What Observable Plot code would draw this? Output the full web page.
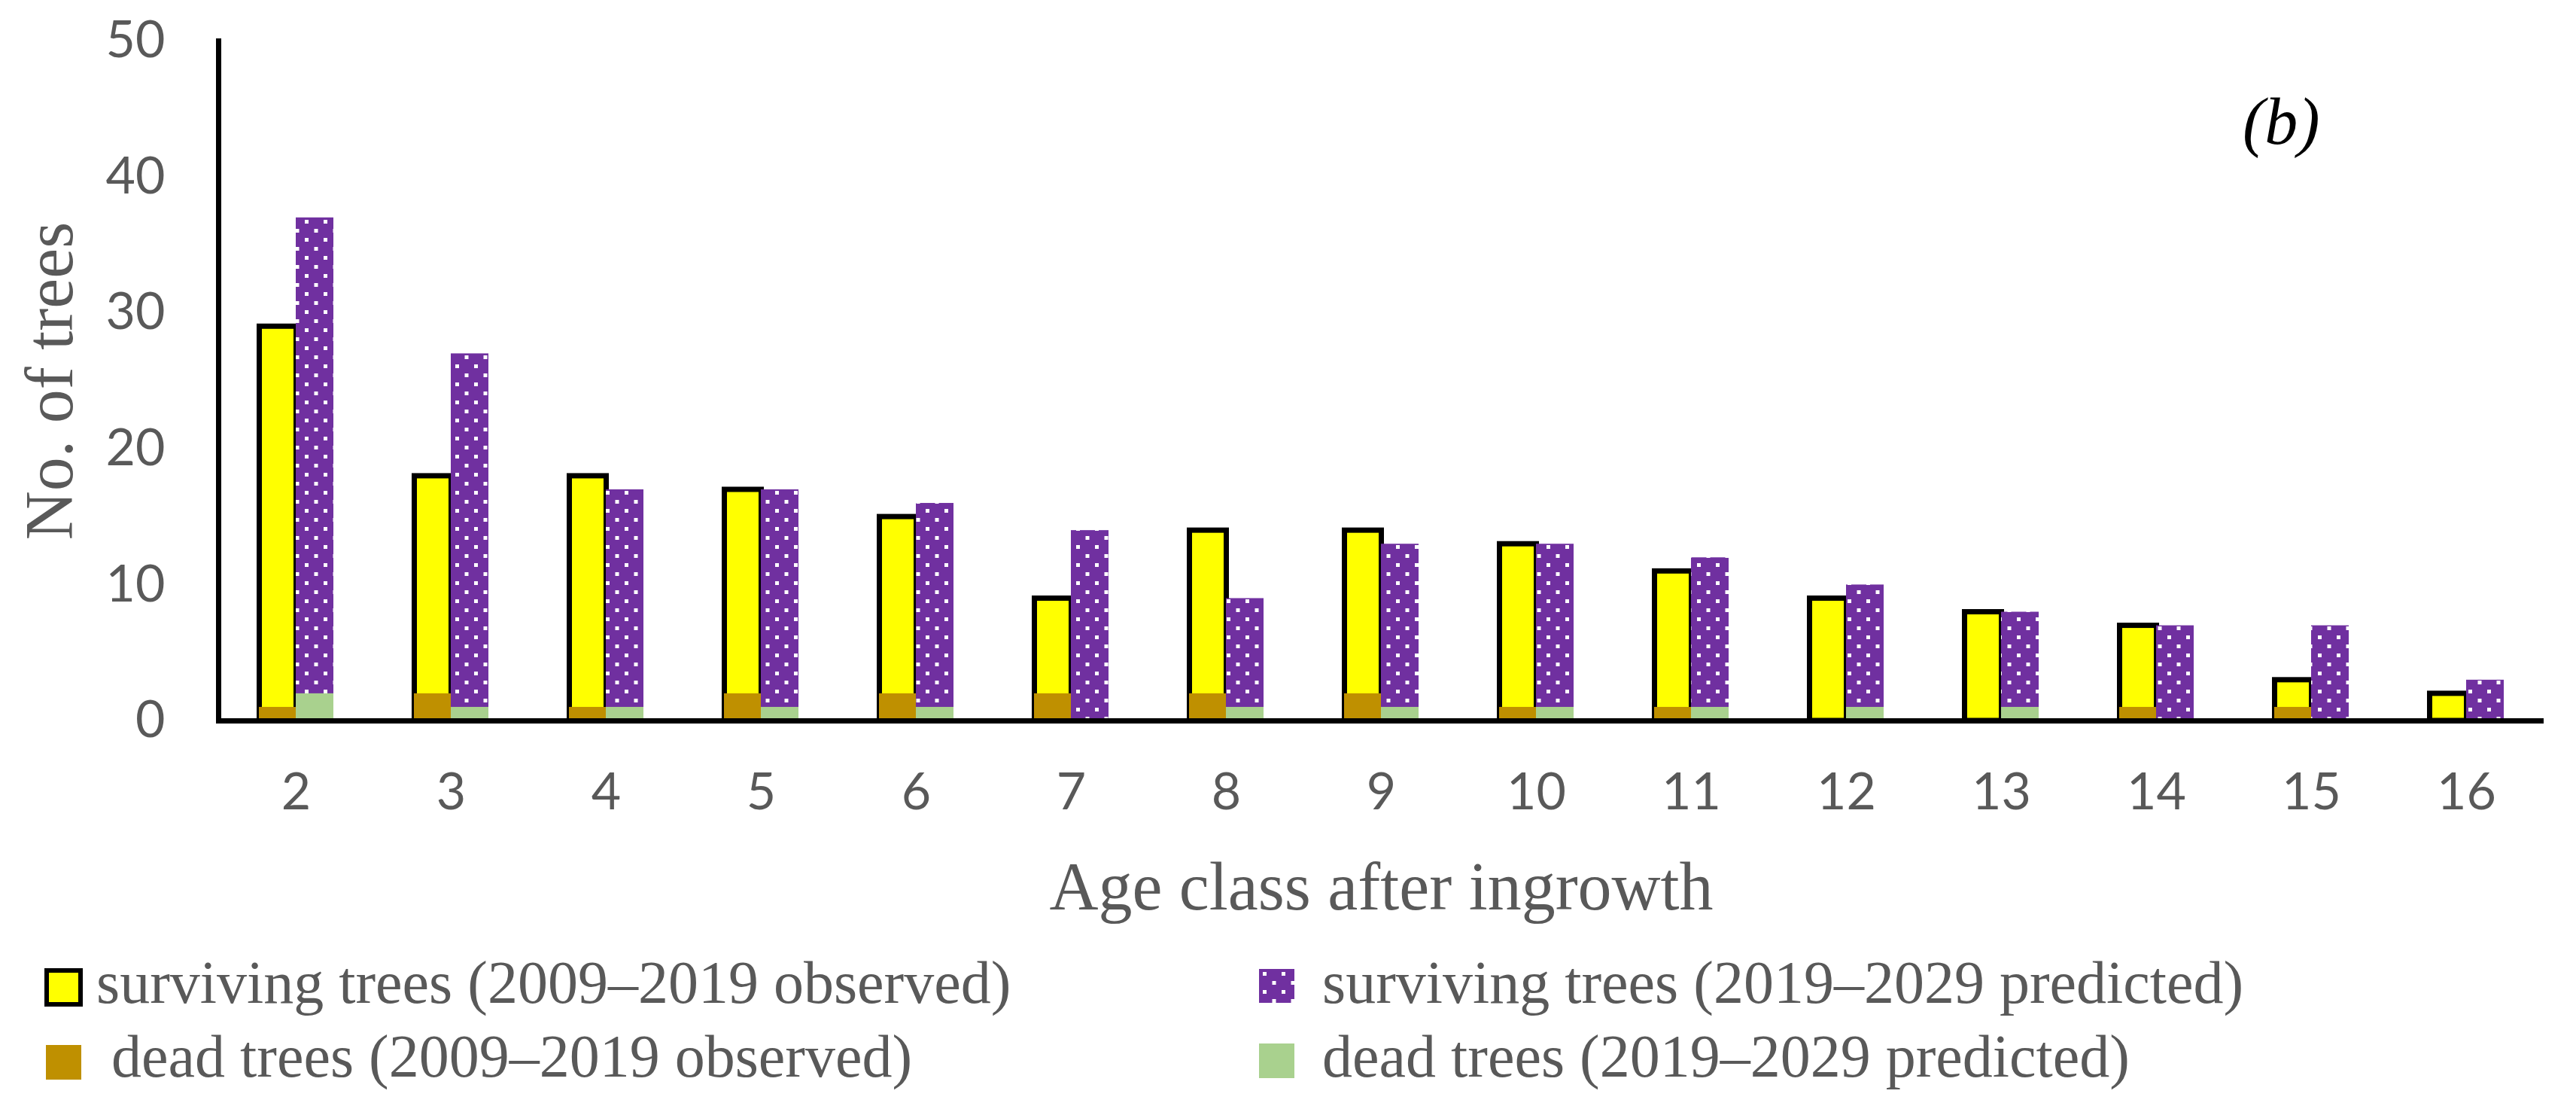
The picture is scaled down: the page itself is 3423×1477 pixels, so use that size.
<!DOCTYPE html>
<html><head><meta charset="utf-8">
<script src="https://cdn.jsdelivr.net/npm/d3@7"></script>
<script src="https://cdn.jsdelivr.net/npm/@observablehq/plot@0.6"></script>
<style>
html,body{margin:0;padding:0;background:#fff;}
#wrap{position:relative;width:3423px;height:1477px;overflow:hidden;}
#legend{position:absolute;left:0;top:0;width:3423px;height:1477px;font-family:"Liberation Serif",serif;color:#595959;font-size:80px;}
.sw{position:absolute;box-sizing:border-box;}
.lab{position:absolute;line-height:1;white-space:pre;}
</style></head><body>
<svg width="0" height="0" style="position:absolute"><defs>
<pattern id="dots" patternUnits="userSpaceOnUse" width="25" height="24">
<rect width="25" height="24" fill="#7030A0"/>
<rect x="5" y="4" width="5" height="5" fill="#fff"/>
<rect x="17.5" y="16" width="5" height="5" fill="#fff"/>
</pattern></defs></svg>
<div id="wrap"><div id="chart"></div><div id="legend"></div></div>
<script>
const ageClasses = ["2","3","4","5","6","7","8","9","10","11","12","13","14","15","16"];
const survivingObserved  = [29, 18, 18, 17, 15,  9, 14, 14, 13, 11,  9,  8,  7,  3,  2];
const survivingPredicted = [37, 27, 17, 17, 16, 14,  9, 13, 13, 12, 10,  8,  7,  7,  3];
const deadObserved       = [ 1,  2,  1,  2,  2,  2,  2,  2,  1,  1,  0,  0,  1,  1,  0];
const deadPredicted      = [ 2,  1,  1,  1,  1,  0,  1,  1,  1,  1,  1,  1,  0,  0,  0];
const yTicks = [0, 10, 20, 30, 40, 50];
const legendLabels = [
  "surviving trees (2009\u20132019 observed)",
  "surviving trees (2019\u20132029 predicted)",
  " dead trees (2009\u20132019 observed)",
  "dead trees (2019\u20132029 predicted)"
];

const rows = ageClasses.map((age, i) => ({
  age, so: survivingObserved[i], sp: survivingPredicted[i], dob: deadObserved[i], dpr: deadPredicted[i]
}));

const chart = Plot.plot({
  width: 3423, height: 1240,
  marginLeft: 290, marginRight: 43, marginTop: 54, marginBottom: 283,
  style: {fontFamily: "Lato, sans-serif", fontSize: "68px", color: "#595959", background: "white", overflow: "visible"},
  x: {type: "band", domain: ageClasses, padding: 0, tickSize: 0, tickPadding: 69, label: null},
  y: {domain: [0, 50], ticks: yTicks, tickSize: 0, tickPadding: 71, label: null},
  marks: [
    Plot.barY(rows, {x: "age", y: "so", fill: "#FFFF00", stroke: "#000", strokeWidth: 7, insetLeft: 54.5, insetRight: 102.5}),
    Plot.barY(rows, {x: "age", y: "sp", fill: "url(#dots)", insetLeft: 103, insetRight: 53}),
    Plot.barY(rows.filter(d => d.dob > 0), {x: "age", y: "dob", fill: "#BF9000", insetLeft: 54, insetRight: 103}),
    Plot.barY(rows.filter(d => d.dpr > 0), {x: "age", y: "dpr", fill: "#A9D18E", insetLeft: 103, insetRight: 53}),
    Plot.frame({anchor: "left", stroke: "#000", strokeWidth: 7}),
    Plot.ruleY([0], {stroke: "#000", strokeWidth: 7}),
    Plot.text(["No. of trees"], {frameAnchor: "left", textAnchor: "middle", rotate: -90, dx: -223, fontFamily: "Liberation Serif", fontSize: 90, fill: "#595959"}),
    Plot.text(["Age class after ingrowth"], {frameAnchor: "bottom", textAnchor: "middle", dy: 250, lineAnchor: "bottom", fontFamily: "Liberation Serif", fontSize: 90, fill: "#595959"}),
    Plot.text(["(b)"], {frameAnchor: "top-right", dx: -298, dy: 136, textAnchor: "end", lineAnchor: "bottom", fontFamily: "Liberation Serif", fontStyle: "italic", fontSize: 88, fill: "#000"})
  ]
});
document.getElementById("chart").appendChild(chart);

// legend
const legend = document.getElementById("legend");
const items = [
  {sw: {left: 59, top: 1286, w: 51, h: 51, bg: "#FFFF00", border: "6px solid #000"}, text: legendLabels[0], tx: 128, base: 1332},
  {sw: {left: 1673, top: 1287, w: 47, h: 45, pattern: true}, text: legendLabels[1], tx: 1757, base: 1332},
  {sw: {left: 61, top: 1388, w: 47, h: 46, bg: "#BF9000"}, text: legendLabels[2], tx: 128, base: 1430},
  {sw: {left: 1673, top: 1386, w: 47, h: 46, bg: "#A9D18E"}, text: legendLabels[3], tx: 1757, base: 1430}
];
for (const it of items) {
  const s = it.sw;
  let el;
  if (s.pattern) {
    el = document.createElementNS("http://www.w3.org/2000/svg", "svg");
    el.setAttribute("width", s.w); el.setAttribute("height", s.h);
    el.style.position = "absolute";
    const r = document.createElementNS("http://www.w3.org/2000/svg", "rect");
    r.setAttribute("width", s.w); r.setAttribute("height", s.h); r.setAttribute("fill", "url(#dots)");
    el.appendChild(r);
  } else {
    el = document.createElement("div");
    el.className = "sw";
    el.style.width = s.w + "px"; el.style.height = s.h + "px";
    el.style.background = s.bg;
    if (s.border) el.style.border = s.border;
  }
  el.style.left = s.left + "px"; el.style.top = s.top + "px";
  legend.appendChild(el);
  const t = document.createElement("div");
  t.className = "lab";
  t.textContent = it.text;
  t.style.left = it.tx + "px";
  t.style.top = (it.base - 67) + "px";
  legend.appendChild(t);
}
</script>
</body></html>
